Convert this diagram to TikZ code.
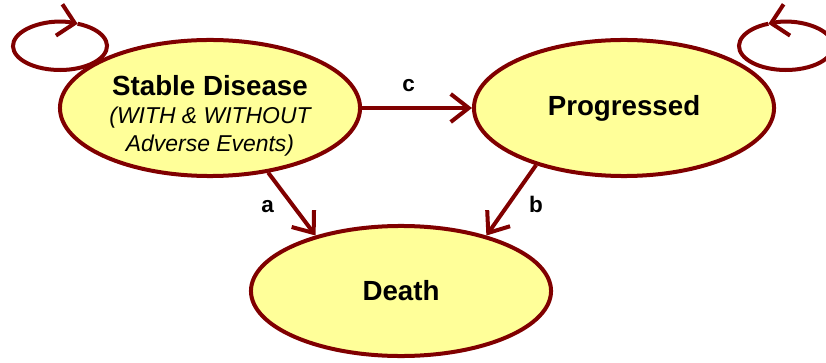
\documentclass[tikz,border=0pt]{standalone}
\usepackage{fontspec}
\setmainfont{Liberation Sans}
\usepackage{tikz}
\usetikzlibrary{arrows.meta,shapes.geometric}
\definecolor{statered}{RGB}{128,0,0}
\definecolor{statefill}{RGB}{255,255,153}
\newcommand{\evfont}{\mdseries\itshape\fontsize{16.3}{18}\selectfont}

\begin{document}
\begin{tikzpicture}[x=0.025cm,y=0.025cm,
  state/.style={ellipse,draw=statered,fill=statefill,line width=0.1cm,inner sep=0pt,
    minimum width=7.5cm,minimum height=3.4cm},
  stext/.style={align=center,font=\fontsize{19.7}{23}\selectfont\bfseries},
  trans/.style={draw=statered,line width=0.1cm,-{Straight Barb[length=0.45cm,width=0.7cm]}},
  selfloop/.style={trans,-{Straight Barb[length=0.4cm,width=0.8cm]}},
  lbl/.style={font=\fontsize{16}{18}\selectfont\bfseries}]
  \useasboundingbox (0,0) rectangle (826,362);
  \coordinate (sdloop) at (60,316);
  \coordinate (pgloop) at (786,316);
  % self loops first, the states cover them
  \path[selfloop] (sdloop) ++(68:47 and 24) arc[start angle=68,end angle=-292,x radius=47,y radius=24];
  \path[selfloop] (pgloop) ++(-248:47 and 24) arc[start angle=-248,end angle=112,x radius=47,y radius=24];
  \node[state] (sd) at (210,254) {};
  \node[state] (pg) at (624,254) {};
  \node[state,minimum height=3.25cm] (dt) at (401,71) {};
  \node[stext] (sdtext) at ([yshift=-0.2cm]sd.center) {Stable Disease\\[-3pt]{\evfont (WITH \& WITHOUT}\\[-3pt]{\evfont Adverse Events)}};
  \node[stext] (pgtext) at (pg.center) {Progressed};
  \node[stext] (dttext) at (dt.center) {Death};
  % transitions
  \path[trans] (sd.east) -- (pg.west) node[lbl,midway,above=7pt,xshift=-6] {c};
  \path[trans] (sd.-48.5) -- (dt.147.5) node[lbl,midway,left=8pt,yshift=-2] {a};
  \path[trans] (pg.213.4) -- (dt.33.7) node[lbl,midway,right=8pt,yshift=-3] {b};
\end{tikzpicture}
\end{document}
